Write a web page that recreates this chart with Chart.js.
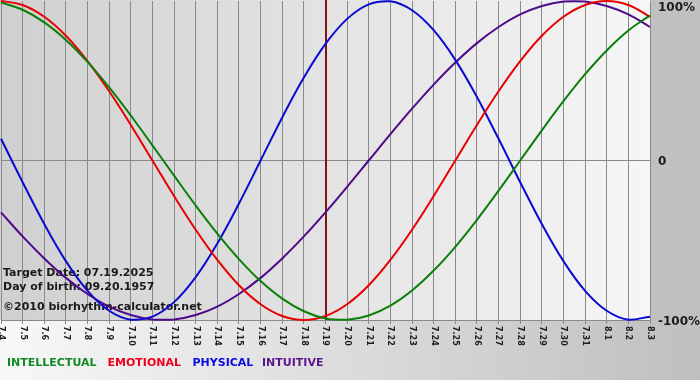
<!DOCTYPE html>
<html>
<head>
<meta charset="utf-8">
<script src="https://cdn.jsdelivr.net/npm/chart.js@4/dist/chart.umd.min.js"></script>
<style>
  html, body { margin: 0; padding: 0; background: #ffffff; }
  #wrap { width: 700px; height: 380px; position: relative; }
</style>
</head>
<body>
<div id="wrap"><canvas id="c" width="700" height="380"></canvas></div>
<script>
// ---- data ----
const dates = ['7.4','7.5','7.6','7.7','7.8','7.9','7.10','7.11','7.12','7.13','7.14','7.15','7.16','7.17','7.18','7.19','7.20','7.21','7.22','7.23','7.24','7.25','7.26','7.27','7.28','7.29','7.30','7.31','8.1','8.2','8.3'];
const intellectual = [99.0,94.5,86.6,75.6,61.8,45.8,28.2,9.5,-9.5,-28.2,-45.8,-61.8,-75.6,-86.6,-94.5,-99.0,-99.9,-97.2,-91.0,-81.5,-69.0,-54.1,-37.2,-18.9,0,18.9,37.2,54.1,69.0,81.5,91.0];
const emotional = [100,97.5,90.1,78.2,62.3,43.4,22.3,0,-22.3,-43.4,-62.3,-78.2,-90.1,-97.5,-100,-97.5,-90.1,-78.2,-62.3,-43.4,-22.3,0,22.3,43.4,62.3,78.2,90.1,97.5,100,97.5,90.1];
const physical = [13.6,-13.6,-39.8,-63.1,-81.7,-94.2,-99.8,-97.9,-88.8,-73.1,-52.0,-27.0,0,27.0,52.0,73.1,88.8,97.9,99.8,94.2,81.7,63.1,39.8,13.6,-13.6,-39.8,-63.1,-81.7,-94.2,-99.8,-97.9];
const intuitive = [-32.5,-47.6,-61.4,-73.6,-83.7,-91.6,-96.9,-99.7,-99.7,-96.9,-91.6,-83.7,-73.6,-61.4,-47.6,-32.5,-16.5,0,16.5,32.5,47.6,61.4,73.6,83.7,91.6,96.9,99.7,99.7,96.9,91.6,83.7];
const yTickValues = [100, 0, -100];
const yTickLabels = ['100%', '0', '-100%'];
const seriesNames = ['INTELLECTUAL', 'EMOTIONAL', 'PHYSICAL', 'INTUITIVE'];
const targetLabel = '7.19';
const infoLines = ['Target Date: 07.19.2025', 'Day of birth: 09.20.1957', '\u00A92010 biorhythm-calculator.net'];

// ---- styles ----
const lineColors = ['#0a800a', '#e80000', '#0a0ad0', '#4e0a8a'];
const legendColors = ['#108a20', '#f0001c', '#0a0ae6', '#5a168e'];
const legendX = [7, 107.5, 192.5, 262];
const FONT = "'DejaVu Sans', Verdana, sans-serif";

const bgPlugin = {
  id: 'bg',
  beforeDraw(chart) {
    const { ctx, chartArea: a, width, height } = chart;
    ctx.save();
    let g = ctx.createLinearGradient(0, 0, width, 0);
    g.addColorStop(0, '#f8f8f8');
    g.addColorStop(1, '#bfbfbf');
    ctx.fillStyle = g;
    ctx.fillRect(0, 0, width, height);
    ctx.fillStyle = '#c0c0c0';
    ctx.fillRect(a.right, 0, width - a.right, a.bottom);
    g = ctx.createLinearGradient(0, 0, a.right, 0);
    g.addColorStop(0, '#d0d0d0');
    g.addColorStop(1, '#f6f6f6');
    ctx.fillStyle = g;
    ctx.fillRect(0, 0, a.right, a.bottom);
    ctx.restore();
  },
  beforeDatasetsDraw(chart) {
    const { ctx, chartArea: a, scales } = chart;
    ctx.save();
    const tx = Math.round(scales.x.getPixelForValue(dates.indexOf(targetLabel)));
    ctx.strokeStyle = '#7e1414';
    ctx.lineWidth = 2;
    ctx.beginPath();
    ctx.moveTo(tx, 0);
    ctx.lineTo(tx, a.bottom);
    ctx.stroke();
    ctx.fillStyle = '#1a1a1a';
    ctx.font = 'bold 11px ' + FONT;
    ctx.textAlign = 'left';
    ctx.textBaseline = 'alphabetic';
    ctx.fillText(infoLines[0], 3, 276);
    ctx.fillText(infoLines[1], 3, 290);
    ctx.fillText(infoLines[2], 3, 310);
    ctx.restore();
  },
  afterDraw(chart) {
    const { ctx, chartArea: a, scales } = chart;
    ctx.save();
    ctx.fillStyle = '#1e1e1e';
    ctx.font = 'bold 8px ' + FONT;
    ctx.textAlign = 'left';
    ctx.textBaseline = 'middle';
    dates.forEach((d, i) => {
      const x = scales.x.getPixelForValue(i);
      ctx.save();
      ctx.translate(x, a.bottom + 6);
      ctx.rotate(Math.PI / 2);
      ctx.fillText(d, 0, 0);
      ctx.restore();
    });
    ctx.fillStyle = '#1a1a1a';
    ctx.font = 'bold 12px ' + FONT;
    ctx.textBaseline = 'middle';
    yTickValues.forEach((v, i) => {
      let y = scales.y.getPixelForValue(v) + 1.5;
      if (y < 7.5) y = 7.5;
      ctx.fillText(yTickLabels[i], a.right + 8, y);
    });
    ctx.font = 'bold 11px ' + FONT;
    ctx.textBaseline = 'alphabetic';
    seriesNames.forEach((n, i) => {
      ctx.fillStyle = legendColors[i];
      ctx.fillText(n, legendX[i], 366);
    });
    ctx.restore();
  }
};

const seriesData = [intellectual, emotional, physical, intuitive];
new Chart(document.getElementById('c'), {
  type: 'line',
  data: {
    labels: dates,
    datasets: seriesNames.map((n, i) => ({
      label: n,
      data: seriesData[i],
      borderColor: lineColors[i],
      backgroundColor: lineColors[i],
      borderWidth: 2,
      pointRadius: 0,
      tension: 0.4,
      fill: false,
      clip: false,
      order: i
    }))
  },
  options: {
    responsive: false,
    animation: false,
    events: [],
    layout: { padding: { left: 1, top: 1, right: 50, bottom: 56 } },
    plugins: { legend: { display: false }, tooltip: { enabled: false } },
    scales: {
      x: {
        type: 'category',
        offset: false,
        grid: { color: '#8a8a8a', lineWidth: 1, tickLength: 4, drawTicks: true, offset: false },
        border: { display: true, color: '#8a8a8a' },
        ticks: { display: false }
      },
      y: {
        position: 'right',
        min: -100,
        max: 100,
        ticks: { display: false, stepSize: 100 },
        grid: {
          drawTicks: false,
          color: (c) => (c.tick && c.tick.value === 0 ? '#8a8a8a' : 'rgba(0,0,0,0)')
        },
        border: { display: false }
      }
    }
  },
  plugins: [bgPlugin]
});
</script>
</body>
</html>
